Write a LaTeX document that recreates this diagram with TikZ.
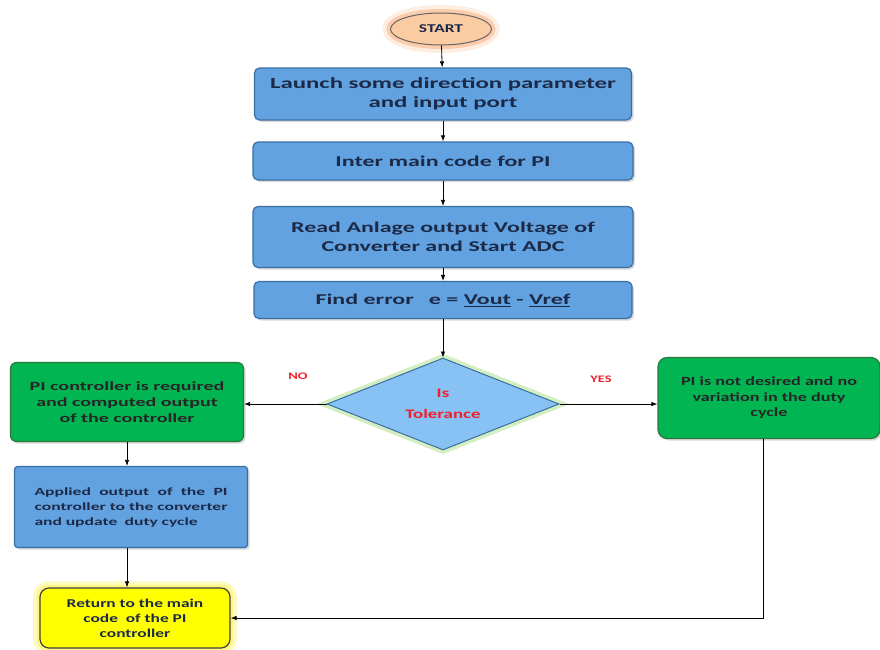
\documentclass[tikz,border=0pt]{standalone}
\usepackage{fontspec}
\setmainfont{Carlito}
\newfontfamily\boxfont{Carlito}[FakeStretch=1.45]
\newfontfamily\wideboxfont{Carlito}[FakeStretch=1.6]
\usetikzlibrary{shapes.geometric,arrows.meta,shadows}
\definecolor{boxblue}{HTML}{62A2E0}
\definecolor{edgeblue}{HTML}{3A6EA5}
\definecolor{boxgreen}{HTML}{00B552}
\definecolor{edgegreen}{HTML}{2A7A3C}
\definecolor{textnavy}{HTML}{1C2A48}
\definecolor{startfill}{HTML}{FBCBA2}
\definecolor{startglow}{HTML}{F8A36A}
\definecolor{diafill}{HTML}{88C2F4}
\definecolor{diaglow}{HTML}{B5E296}
\definecolor{retfill}{HTML}{FFFF00}
\definecolor{retglow}{HTML}{FFF25A}
\definecolor{labred}{HTML}{F0202A}
\newcommand{\spreadline}[1]{\makebox[193pt][l]{#1}}
\begin{document}
\begin{tikzpicture}[x=1pt,y=-1pt,
	every node/.style={inner sep=0pt},
	stepbox/.style={rectangle, rounded corners=5pt, draw=edgeblue, line width=1.2pt, fill=boxblue, text=textnavy, align=center,
		drop shadow={shadow xshift=2pt, shadow yshift=-2pt, opacity=.3}},
	greenbox/.style={rectangle, rounded corners=6pt, draw=edgegreen, line width=1.2pt, fill=boxgreen, text=black!85, align=center,
		drop shadow={shadow xshift=2pt, shadow yshift=-2pt, opacity=.3}},
	startnode/.style={ellipse, draw=black!60, line width=1pt, fill=startfill, text=textnavy, minimum width=101pt, minimum height=32pt,
		font=\boxfont\bfseries\fontsize{12}{14}\selectfont,
		preaction={draw=startglow, line width=16pt, opacity=.2},
		preaction={draw=startglow, line width=8pt, opacity=.45}},
	decision/.style={diamond, aspect=2.4, minimum width=232pt, minimum height=92pt, draw=edgeblue, line width=1pt, fill=diafill,
		text=labred, align=center, font=\boxfont\bfseries\fontsize{13}{21}\selectfont,
		preaction={draw=diaglow, line width=8pt, opacity=.6}},
	retbox/.style={rectangle, rounded corners=9pt, draw=black!75, line width=1.2pt, fill=retfill, text=textnavy, align=center,
		minimum width=190pt, minimum height=60pt, font=\boxfont\bfseries\fontsize{12}{15}\selectfont,
		preaction={draw=retglow, line width=14pt, opacity=.35},
		preaction={draw=retglow, line width=7pt, opacity=.6}},
	yesno/.style={text=labred, font=\boxfont\bfseries\fontsize{10}{12}\selectfont},
	flowarrow/.style={-{Latex[length=6pt,width=4.5pt]}, line width=0.8pt, black}]
\useasboundingbox (0,0) rectangle (880,649);

% main column
\node[startnode] (start) at (441,29) {START};
\node[stepbox, minimum width=377pt, minimum height=52pt, font=\wideboxfont\bfseries\fontsize{15.5}{19}\selectfont] (launch) at (443,94)
	{Launch some direction parameter\\and input port};
\node[stepbox, minimum width=380pt, minimum height=38pt, font=\wideboxfont\bfseries\fontsize{15}{19}\selectfont] (inter) at (443,161)
	{Inter main code for PI};
\node[stepbox, minimum width=380pt, minimum height=61pt, font=\wideboxfont\bfseries\fontsize{15}{19}\selectfont] (read) at (443,237)
	{Read Anlage output Voltage of\\Converter and Start ADC};
\node[stepbox, minimum width=378pt, minimum height=37pt, font=\wideboxfont\bfseries\fontsize{15}{19}\selectfont] (err) at (443,300)
	{Find error\quad e = \underline{Vout} - \underline{Vref}};
\node[decision] (tol) at (443,404) {Is\\Tolerance};

% left branch
\node[greenbox, minimum width=233pt, minimum height=79pt, font=\wideboxfont\bfseries\fontsize{12.5}{16}\selectfont] (pireq) at (127,402)
	{PI controller is required\\and computed output\\of the controller};
\node[stepbox, rounded corners=3pt, minimum width=233pt, minimum height=81pt, text width=193pt, align=left,
	font=\wideboxfont\bfseries\fontsize{11}{15}\selectfont] (apply) at (131,507)
	{\spreadline{Applied \hfill output \hfill of \hfill the \hfill PI}\\\spreadline{controller \hfill to \hfill the \hfill converter}\\and update\ \ duty cycle};
\node[retbox] (ret) at (135,618) {Return to the main\\code\ \ of the PI\\controller};

% right branch
\node[greenbox, rounded corners=9pt, minimum width=222pt, minimum height=81pt, font=\boxfont\bfseries\fontsize{12.5}{15.5}\selectfont] (nopi) at (769,398)
	{PI is not desired and no\\variation in the duty\\cycle};

\node[yesno] (nolab) at (298,376) {NO};
\node[yesno] (yeslab) at (601,379) {YES};

% connectors
\draw[flowarrow] (start) -- (launch);
\draw[flowarrow] (launch) -- (inter);
\draw[flowarrow] (inter) -- (read);
\draw[flowarrow] (read) -- (err);
\draw[flowarrow] (err) -- (tol);
\draw[flowarrow] (tol.west) -- (tol.west -| pireq.east);
\draw[flowarrow] (tol.east) -- (tol.east -| nopi.west);
\draw[flowarrow] (pireq.south) -- (pireq.south |- apply.north);
\draw[flowarrow] (pireq.south |- apply.south) -- (pireq.south |- ret.north);
\draw[flowarrow] ([xshift=-6pt]nopi.south) |- (ret.east);
\end{tikzpicture}
\end{document}
